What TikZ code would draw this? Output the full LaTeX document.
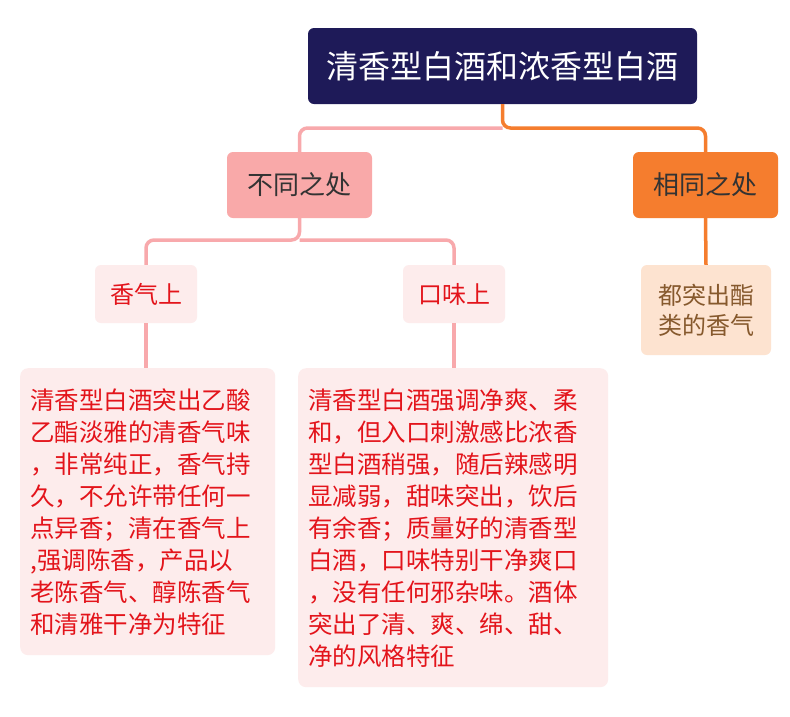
\documentclass[tikz,border=0pt]{standalone}
\usepackage{fontspec}
\newfontfamily\cjk{Noto Sans CJK SC}
\usetikzlibrary{positioning}
\definecolor{navy}{HTML}{1E1A58}
\definecolor{pinkbox}{HTML}{F9A9A9}
\definecolor{orangebox}{HTML}{F57D2E}
\definecolor{lightpink}{HTML}{FDECEC}
\definecolor{peach}{HTML}{FDE3D0}
\definecolor{redtext}{HTML}{E3141B}
\definecolor{pinkline}{HTML}{F8A9AC}
\tikzset{
    %boxes
    rootbox/.style={
           rectangle, rounded corners=6pt,
           fill=navy, text=white,
           minimum width=389pt, minimum height=76pt,
           font=\cjk\fontsize{32}{36}\selectfont},
    midbox/.style={
           rectangle, rounded corners=6pt,
           minimum width=145pt, minimum height=66pt,
           text=black!80, font=\cjk\fontsize{26}{30}\selectfont},
    subbox/.style={
           rectangle, rounded corners=6pt,
           fill=lightpink, text=redtext,
           minimum width=102pt, minimum height=58pt,
           font=\cjk\fontsize{24}{30}\selectfont},
    leafbox/.style={
           rectangle, rounded corners=8pt,
           fill=lightpink, text=redtext,
           inner sep=12pt, align=left, anchor=north west,
           font=\cjk\fontsize{24.5}{32}\selectfont},
    %connectors
    link/.style={line width=3.5pt, rounded corners=8pt}
}
\begin{document}
\begin{tikzpicture}[x=1pt,y=-1pt]
\useasboundingbox[fill=white] (0,0) rectangle (790,716);
 %nodes
\node[rootbox] (root) at (502.5,66) {清香型白酒和浓香型白酒};
\node[midbox, fill=pinkbox] (diff) at (299.5,185) {不同之处};
\node[midbox, fill=orangebox] (same) at (705.5,185) {相同之处};
\node[subbox] (aroma) at (146,294) {香气上};
\node[subbox] (taste) at (454,294) {口味上};
\node[subbox, fill=peach, text=brown!70!black, minimum width=130pt, minimum height=90pt,
      align=left] (common) at (706,310) {都突出酯\\类的香气};
\node[leafbox, minimum width=253pt, minimum height=287pt, text width=235pt, inner sep=10pt] (leafa) at (20,368)
 {清香型白酒突出乙酸\\乙酯淡雅的清香气味\\，非常纯正，香气持\\久，不允许带任何一\\点异香；清在香气上\\,强调陈香，产品以\\老陈香气、醇陈香气\\和清雅干净为特征};
\node[leafbox, minimum width=310pt, minimum height=319pt, text width=290pt, inner sep=10pt] (leafb) at (298,368)
 {清香型白酒强调净爽、柔\\和，但入口刺激感比浓香\\型白酒稍强，随后辣感明\\显减弱，甜味突出，饮后\\有余香；质量好的清香型\\白酒，口味特别干净爽口\\，没有任何邪杂味。酒体\\突出了清、爽、绵、甜、\\净的风格特征};
\coordinate (fork) at (502.5,128);
\coordinate (split) at (299.5,240);
 %links
\draw[link, pinkline] (fork) -| (diff.north);
\draw[link, orangebox] (root.south) -- (fork) -| (same.north);
\draw[link, pinkline] (diff.south) -- (split) -| (aroma.north);
\draw[link, pinkline] (split) -| (taste.north);
\draw[link, pinkline] (aroma.south) -- (leafa.north -| aroma.south);
\draw[link, pinkline] (taste.south) -- (leafb.north -| taste.south);
\draw[link, orangebox] (same.south) -- (common.north);
\end{tikzpicture}
\end{document}
